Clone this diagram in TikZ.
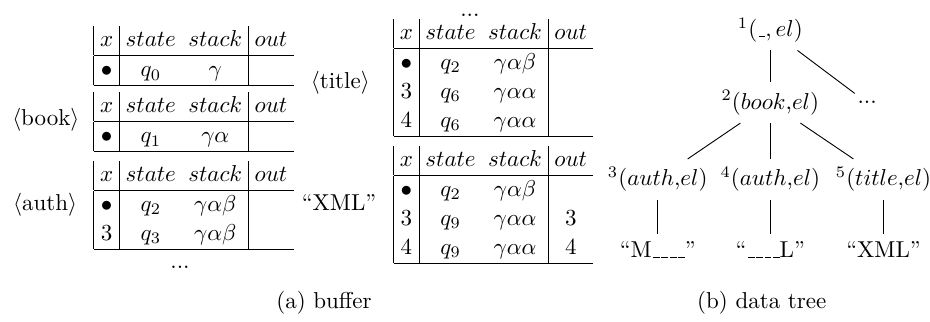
\documentclass[tikz,border=0pt]{standalone}
\setlength{\tabcolsep}{2.7pt}
\renewcommand{\arraystretch}{1.05}
\newcommand{\uscore}{\leavevmode\kern.06em\vbox{\hrule width.3em}}
\begin{document}
\begin{tikzpicture}
	\tikzset{buf/.style={inner sep=0pt}}
	\useasboundingbox (0,0) rectangle (14.21,4.92);
	% (a) buffer
	\node[buf] (b1) at (2.96,4.06) {\begin{tabular}{|c|cc|c}
		$x$ & $state$ & $stack$ & $out$ \\ \hline
		$\bullet$ & $q_0$ & $\gamma$ & \\ \hline
	\end{tabular}};
	\node[buf] (b2) at (2.96,3.05) {\begin{tabular}{|c|cc|c}
		$x$ & $state$ & $stack$ & $out$ \\ \hline
		$\bullet$ & $q_1$ & $\gamma\alpha$ & \\ \hline
	\end{tabular}};
	\node[buf] (b3) at (2.96,1.78) {\begin{tabular}{|c|cc|c}
		$x$ & $state$ & $stack$ & $out$ \\ \hline
		$\bullet$ & $q_2$ & $\gamma\alpha\beta$ & \\
		3 & $q_3$ & $\gamma\alpha\beta$ & \\ \hline
	\end{tabular}};
	\node[buf] (b4) at (7.54,3.73) {\begin{tabular}{|c|cc|c}
		$x$ & $state$ & $stack$ & $out$ \\ \hline
		$\bullet$ & $q_2$ & $\gamma\alpha\beta$ & \\
		3 & $q_6$ & $\gamma\alpha\alpha$ & \\
		4 & $q_6$ & $\gamma\alpha\alpha$ & \\ \hline
	\end{tabular}};
	\node[buf] (b5) at (7.54,1.79) {\begin{tabular}{|c|cc|c}
		$x$ & $state$ & $stack$ & $out$ \\ \hline
		$\bullet$ & $q_2$ & $\gamma\alpha\beta$ & \\
		3 & $q_9$ & $\gamma\alpha\alpha$ & 3 \\
		4 & $q_9$ & $\gamma\alpha\alpha$ & 4 \\ \hline
	\end{tabular}};
	\node (d3) at (2.75,0.84) {...};
	\node (d4) at (7.18,4.68) {...};
	\node (lbook)  at (0.70,3.09) {$\langle$book$\rangle$};
	\node (lauth)  at (0.69,1.79) {$\langle$auth$\rangle$};
	\node (ltitle) at (5.20,3.65) {$\langle$title$\rangle$};
	\node (lxml)   at (5.18,1.82) {``XML''};
	\node (capa)   at (4.95,0.29) {(a) buffer};
	%
	% (b) data tree
	\node (v1) at (11.77,4.46) {$^1(\mbox{\uscore}, el)$};
	\node (v2) at (11.77,3.35) {$^2(book{,}el)$};
	\node (v6) at (13.25,3.35) {...};
	\node (v3) at (10.05,2.18) {$^3(auth{,}el)$};
	\node (v4) at (11.77,2.18) {$^4(auth{,}el)$};
	\node (v5) at (13.50,2.18) {$^5(title{,}el)$};
	\node (w3) at (10.05,1.10) {``M\uscore\uscore\uscore\uscore''};
	\node (w4) at (11.77,1.10) {``\uscore\uscore\uscore\uscore L''};
	\node (w5) at (13.50,1.10) {``XML''};
	\node (capb) at (11.64,0.29) {(b) data tree};
	%
	\def\edges {v1/v2, v1/v6, v2/v3, v2/v4, v2/v5, v3/w3, v4/w4, v5/w5}  % parent/child
	\foreach \u/\v in \edges
	{	\draw (\u) -- (\v);
	}
	%
\end{tikzpicture}
\end{document}
